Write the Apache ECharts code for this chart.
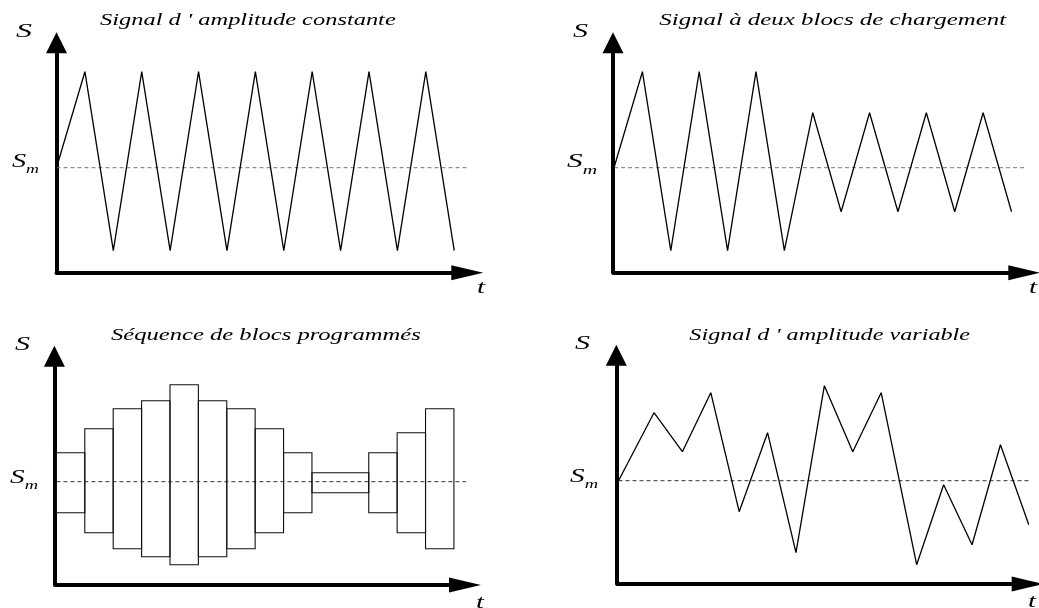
<!DOCTYPE html>
<html>
<head>
<meta charset="utf-8">
<script src="https://cdn.jsdelivr.net/npm/echarts@6/dist/echarts.min.js"></script>
<style>
  html, body { margin: 0; padding: 0; background: #fff; }
  #chart { width: 1039px; height: 608px; }
</style>
</head>
<body>
<div id="chart"></div>
<script>
// Time is counted in half-cycles, S as the offset from the mean level Sm.
const SM = 0;
const DASH_END = 15;

// Constant-amplitude signal
const constT = [0, 1, 2, 3, 4, 5, 6, 7, 8, 9, 10, 11, 12, 13, 14];
const constS = [0, 9.6, -8.3, 9.6, -8.3, 9.6, -8.3, 9.6, -8.3, 9.6, -8.3, 9.6, -8.3, 9.6, -8.3];

// Two loading blocks: three large cycles, then four small ones
const twoT = [0, 1, 2, 3, 4, 5, 6, 7, 8, 9, 10, 11, 12, 13, 14];
const twoS = [0, 9.6, -8.3, 9.6, -8.3, 9.6, -8.3, 5.5, -4.4, 5.5, -4.4, 5.5, -4.4, 5.5, -4.4];

// Programmed block sequence: each block spans [start, end] between low and high
const blockStart = [0, 1, 2, 3, 4, 5, 6, 7, 8, 9, 11, 12, 13];
const blockEnd   = [1, 2, 3, 4, 5, 6, 7, 8, 9, 11, 12, 13, 14];
const blockHigh  = [2.9, 5.3, 7.3, 8.1, 9.7, 8.1, 7.3, 5.3, 2.9, 0.9, 2.9, 4.9, 7.3];
const blockLow   = [-3.1, -5.1, -6.7, -7.5, -8.3, -7.5, -6.7, -5.1, -3.1, -1.1, -3.1, -5.1, -6.7];

// Variable-amplitude signal
const varT = [0, 1.25, 2.25, 3.25, 4.25, 5.25, 6.25, 7.25, 8.25, 9.25, 10.5, 11.45, 12.45, 13.45, 14.45];
const varS = [0, 6.8, 2.9, 8.8, -3.1, 4.8, -7.2, 9.5, 2.9, 8.8, -8.4, -0.4, -6.4, 3.6, -4.4];

const titles = [
  'Signal d \' amplitude constante',
  'Signal à deux blocs de chargement',
  'Séquence de blocs programmés',
  'Signal d \' amplitude variable'
];

const SERIF = '"Liberation Serif", "DejaVu Serif", serif';
const zip = (xs, ys) => xs.map((x, i) => [x, ys[i]]);

// panel layout
const panels = [
  { left: 56.5, top: 42.7, width: 410.8, height: 230, xMax: 14.46, yMin: -10.5, yMax: 12.5, yOff: 0, dash: '#777' },
  { left: 614, top: 42.7, width: 410.3, height: 230, xMax: 14.45, yMin: -10.5, yMax: 12.5, yOff: 1, dash: '#777' },
  { left: 56.4, top: 356.3, width: 408.6, height: 228.7, xMax: 14.39, yMin: -10.33, yMax: 12.54, yOff: 2, dash: '#333' },
  { left: 618.5, top: 355.2, width: 409.2, height: 228.8, xMax: 14.41, yMin: -10.33, yMax: 12.55, yOff: 2.2, dash: '#333' }
];

const axisLineBase = { show: true, onZero: false, lineStyle: { color: '#000', width: 4 } };

const grid = panels.map(p => ({ left: p.left, top: p.top, width: p.width, height: p.height }));
const xAxis = panels.map((p, i) => ({
  type: 'value', gridIndex: i, min: 0, max: p.xMax,
  axisLine: Object.assign({}, axisLineBase, { symbol: ['none', 'triangle'], symbolSize: [15, 32] }),
  axisTick: { show: false }, axisLabel: { show: false }, splitLine: { show: false }
}));
const yAxis = panels.map((p, i) => ({
  type: 'value', gridIndex: i, min: p.yMin, max: p.yMax, offset: p.yOff,
  axisLine: Object.assign({}, axisLineBase, { symbol: ['none', 'triangle'], symbolSize: [21, 21] }),
  axisTick: { show: false }, axisLabel: { show: false }, splitLine: { show: false }
}));

function signalLine(idx, data) {
  return {
    type: 'line', xAxisIndex: idx, yAxisIndex: idx, data: data,
    symbol: 'none', clip: false, z: 3,
    lineStyle: { color: '#000', width: 1.3 }
  };
}
function meanLine(idx) {
  return {
    type: 'line', xAxisIndex: idx, yAxisIndex: idx,
    data: [[0, SM], [DASH_END, SM]],
    symbol: 'none', clip: false, z: 2,
    lineStyle: { color: panels[idx].dash, width: 1, type: [4, 3] }
  };
}

const blockSeries = {
  type: 'custom', xAxisIndex: 2, yAxisIndex: 2, z: 3,
  data: blockStart.map((s, i) => [s, blockEnd[i], blockLow[i], blockHigh[i]]),
  encode: { x: [0, 1], y: [2, 3] },
  renderItem: function (params, api) {
    const a = api.coord([api.value(0), api.value(3)]);
    const b = api.coord([api.value(1), api.value(2)]);
    return {
      type: 'rect',
      shape: { x: a[0], y: a[1], width: b[0] - a[0], height: b[1] - a[1] },
      style: { fill: 'none', stroke: '#111', lineWidth: 1.1 }
    };
  }
};

// text helpers: glyphs are drawn horizontally stretched to a target width
const mctx = document.createElement('canvas').getContext('2d');
function textWidth(str, size) {
  mctx.font = 'italic ' + size + 'px ' + SERIF;
  return mctx.measureText(str).width;
}
function label(str, size, cx, cy, w) {
  return {
    type: 'text', x: cx, y: cy, scaleX: w / textWidth(str, size), z: 10,
    style: {
      text: str, fill: '#000', align: 'center', verticalAlign: 'middle',
      fontFamily: SERIF, fontStyle: 'italic', fontSize: size
    }
  };
}
function meanLabel(xLeft, baseline, w) {
  const natural = textWidth('S', 19) + textWidth('m', 12);
  return {
    type: 'text', x: xLeft, y: baseline - 15.3, scaleX: w / natural, z: 10,
    style: {
      text: '{s|S}{m|m}', align: 'left', verticalAlign: 'top',
      rich: {
        s: { fontFamily: SERIF, fontStyle: 'italic', fontSize: 19, lineHeight: 19, verticalAlign: 'bottom', fill: '#000' },
        m: { fontFamily: SERIF, fontStyle: 'italic', fontSize: 12, lineHeight: 2, height: 2, verticalAlign: 'bottom', fill: '#000' }
      }
    }
  };
}

const graphic = [
  label(titles[0], 17, 247.9, 20.8, 295.7),
  label(titles[1], 17, 832.7, 21.0, 346.7),
  label(titles[2], 17, 265.9, 335.3, 309.7),
  label(titles[3], 17, 829.7, 335.3, 280.7),
  label('S', 18, 24, 31.8, 16),
  label('S', 18, 580.5, 31.8, 15),
  label('S', 18, 22.5, 345.2, 15),
  label('S', 18, 582.5, 344.6, 15),
  label('t', 18, 481, 288.5, 8),
  label('t', 18, 1033, 288.5, 8),
  label('t', 18, 480, 603, 8),
  label('t', 18, 1032, 602, 8),
  meanLabel(12, 167.3, 27),
  meanLabel(567, 167.8, 30),
  meanLabel(10, 483.5, 28),
  meanLabel(570, 482.5, 28)
];

const chart = echarts.init(document.getElementById('chart'), null, { renderer: 'canvas' });
chart.setOption({
  animation: false,
  backgroundColor: '#fff',
  grid: grid,
  xAxis: xAxis,
  yAxis: yAxis,
  graphic: graphic,
  series: [
    meanLine(0), signalLine(0, zip(constT, constS)),
    meanLine(1), signalLine(1, zip(twoT, twoS)),
    meanLine(2), blockSeries,
    meanLine(3), signalLine(3, zip(varT, varS))
  ]
});
</script>
</body>
</html>
